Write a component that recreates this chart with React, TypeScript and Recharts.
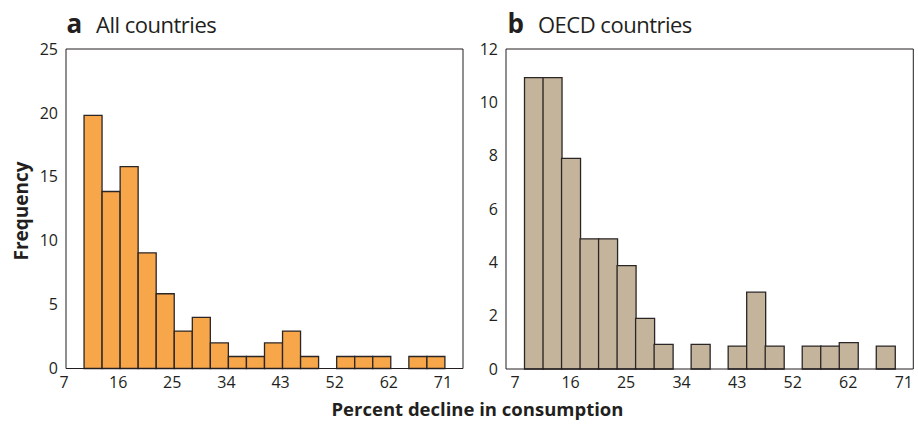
import React from 'react';
import { BarChart, Bar, XAxis, YAxis } from 'recharts';

// Shared x tick labels (bin edges)
const tickLabels = ['7', '16', '25', '34', '43', '52', '62', '71'];

// Panel a: All countries — frequency per bin (20 bins)
const allCounts = [19.8, 13.85, 15.8, 9.05, 5.85, 2.93, 4, 2, 0.94, 0.94, 2, 2.93, 0.94, 0, 0.94, 0.94, 0.94, 0, 0.94, 0.94];
const allYTicks = [0, 5, 10, 15, 20, 25];

// Panel b: OECD countries — frequency per bin (20 bins)
const oecdCounts = [10.93, 10.93, 7.9, 4.88, 4.88, 3.88, 1.9, 0.92, 0, 0.92, 0, 0.86, 2.88, 0.86, 0, 0.86, 0.86, 0.99, 0, 0.86];
const oecdYTicks = [0, 2, 4, 6, 8, 10, 12];

const INK = '#231f20';
const FONT = '"Open Sans", "Noto Sans", sans-serif';

const xTickPos = tickLabels.map((_, i) => i * 3);

const makeXTick = (dx: number) => (props: any) => {
  const { x, y, payload } = props;
  const idx = Math.round(payload.value / 3);
  return (
    <text x={x + dx} y={y} dy="0.71em" textAnchor="middle" fill={INK} fontSize={16} fontFamily={FONT}>
      {tickLabels[idx]}
    </text>
  );
};

const NoLabel = () => <g />;

type PanelProps = {
  counts: number[];
  yTicks: number[];
  fill: string;
  width: number;
  yAxisWidth: number;
  marginRight: number;
  marginBottom: number;
  labelDx: number;
};

function Panel({ counts, yTicks, fill, width, yAxisWidth, marginRight, marginBottom, labelDx }: PanelProps) {
  const data = counts.map((c, i) => ({ pos: i + 1.5, count: c }));
  const yMax = yTicks[yTicks.length - 1];
  const innerTicks = yTicks.slice(1, -1);
  const axisStroke = { stroke: INK, strokeWidth: 1 };
  return (
    <BarChart
      width={width}
      height={424}
      data={data}
      margin={{ top: 49, right: marginRight, bottom: marginBottom, left: 0 }}
      barCategoryGap={0}
      barGap={0}
    >
      <XAxis
        xAxisId="b"
        dataKey="pos"
        type="number"
        domain={[0, 22]}
        ticks={xTickPos}
        interval={0}
        tickLine={false}
        axisLine={axisStroke}
        tick={makeXTick(labelDx)}
        height={30}
        allowDataOverflow
      />
      <XAxis
        xAxisId="t"
        orientation="top"
        type="number"
        domain={[0, 22]}
        mirror
        tick={false}
        tickLine={false}
        axisLine={axisStroke}
      />
      <YAxis
        yAxisId="l"
        type="number"
        domain={[0, yMax]}
        ticks={yTicks}
        interval={0}
        width={yAxisWidth}
        tickLine={false}
        axisLine={axisStroke}
        tick={{ fill: INK, fontSize: 16, fontFamily: FONT }}
      />
      <YAxis
        yAxisId="li"
        type="number"
        domain={[0, yMax]}
        ticks={innerTicks}
        interval={0}
        mirror
        tick={NoLabel}
        tickSize={9}
        axisLine={false}
        tickLine={axisStroke}
      />
      <YAxis
        yAxisId="r"
        orientation="right"
        type="number"
        domain={[0, yMax]}
        ticks={innerTicks}
        interval={0}
        mirror
        tick={NoLabel}
        tickSize={9}
        axisLine={axisStroke}
        tickLine={axisStroke}
      />
      <Bar
        xAxisId="b"
        yAxisId="l"
        dataKey="count"
        fill={fill}
        stroke="#2a2626"
        strokeWidth={1.3}
        isAnimationActive={false}
      />
    </BarChart>
  );
}

export default function App() {
  return (
    <div style={{ position: 'absolute', left: 0, top: 0, width: 918, height: 424, background: '#fff', fontFamily: FONT }}>
      <div style={{ position: 'absolute', left: 0, top: 0 }}>
        <Panel
          counts={allCounts}
          yTicks={allYTicks}
          fill="#F8A64A"
          width={480}
          yAxisWidth={66}
          marginRight={17}
          marginBottom={25.5}
          labelDx={-2}
        />
      </div>
      <div style={{ position: 'absolute', left: 460, top: 0 }}>
        <Panel
          counts={oecdCounts}
          yTicks={oecdYTicks}
          fill="#C5B49C"
          width={458}
          yAxisWidth={46}
          marginRight={4.7}
          marginBottom={25}
          labelDx={9}
        />
      </div>
      <svg width={918} height={424} style={{ position: 'absolute', left: 0, top: 0, pointerEvents: 'none' }}>
        <text x={66.5} y={32.5} fontSize={26} fontWeight={700} fill={INK} fontFamily={FONT}>a</text>
        <text x={96} y={32.5} fontSize={22} letterSpacing={-0.5} fill={INK} fontFamily={FONT}>All countries</text>
        <text x={507.5} y={32.5} fontSize={26} fontWeight={700} fill={INK} fontFamily={FONT}>b</text>
        <text x={538} y={32.5} fontSize={22} letterSpacing={-0.5} fill={INK} fontFamily={FONT}>OECD countries</text>
        <text transform="translate(28,211) rotate(-90)" textAnchor="middle" fontSize={19} fontWeight={700} fill={INK} fontFamily={FONT}>Frequency</text>
        <text x={477.5} y={416} textAnchor="middle" fontSize={18.5} fontWeight={700} fill={INK} fontFamily={FONT}>Percent decline in consumption</text>
      </svg>
    </div>
  );
}
